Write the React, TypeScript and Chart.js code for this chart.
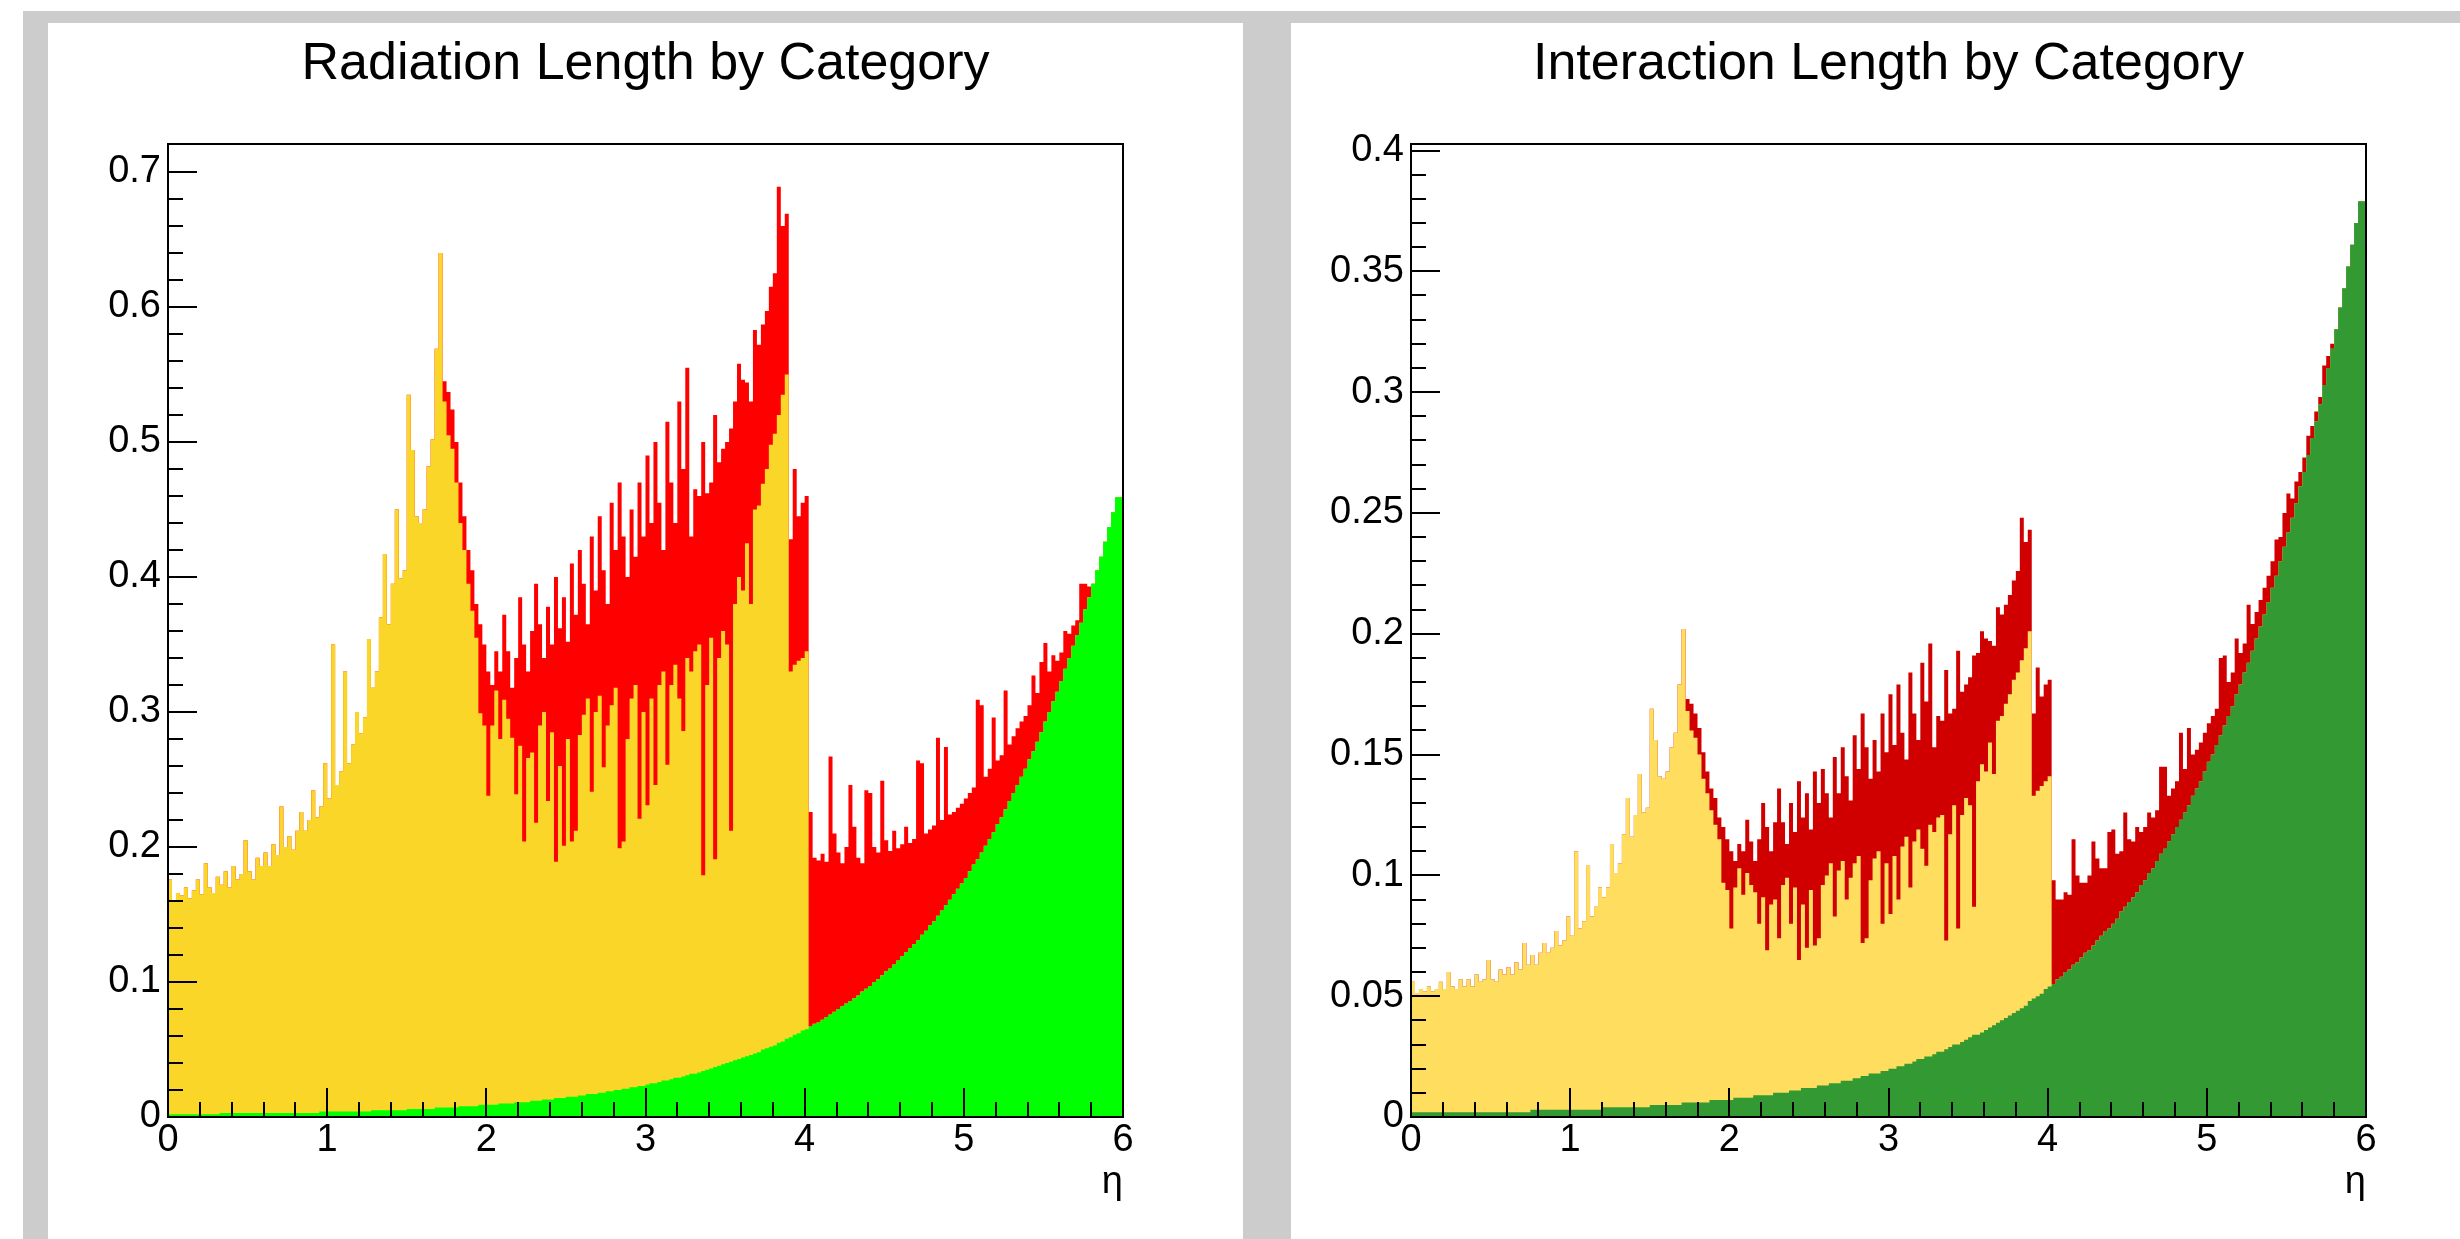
import React, { useEffect, useRef } from 'react';
import { Chart, registerables } from 'chart.js';

Chart.register(...registerables);

// ---------------- data (values in units of 1e-3, 240 bins of 0.025 in eta) ----------------
const ETA_MAX = 6;
const N_BINS = 240;
const X_TICKS = [0, 1, 2, 3, 4, 5, 6];
const RAD_Y_TICKS = [0, 0.1, 0.2, 0.3, 0.4, 0.5, 0.6, 0.7];
const INT_Y_TICKS = [0, 0.05, 0.1, 0.15, 0.2, 0.25, 0.3, 0.35, 0.4];
const RAD_Y_MAX = 0.7207;
const INT_Y_MAX = 0.4027;
const RAD_TITLE = 'Radiation Length by Category';
const INT_TITLE = 'Interaction Length by Category';
const X_TITLE = 'η';
const CATEGORY_NAMES = ['Category 1', 'Category 2', 'Category 3'];

const RAD_GREEN = [
  2, 2, 2, 2, 2, 2, 2, 2, 2, 2, 2, 2, 2, 2, 3, 3, 3, 3, 3, 3,
  3, 3, 3, 3, 3, 3, 3, 3, 3, 3, 3, 3, 3, 3, 3, 3, 3, 3, 3, 4,
  4, 4, 4, 4, 4, 4, 4, 4, 4, 4, 4, 4, 5, 5, 5, 5, 5, 5, 5, 5,
  5, 6, 6, 6, 6, 6, 6, 6, 7, 7, 7, 7, 7, 7, 8, 8, 8, 8, 8, 9,
  9, 9, 9, 9, 10, 10, 10, 10, 11, 11, 11, 11, 12, 12, 12, 13, 13, 13, 14, 14,
  14, 15, 15, 15, 16, 16, 17, 17, 17, 18, 18, 19, 19, 20, 20, 21, 21, 22, 22, 23,
  23, 24, 25, 25, 26, 27, 27, 28, 29, 29, 30, 31, 32, 32, 33, 34, 35, 36, 37, 38,
  39, 40, 41, 42, 43, 44, 45, 46, 47, 48, 50, 51, 52, 53, 55, 56, 58, 59, 61, 62,
  64, 65, 67, 69, 70, 72, 74, 76, 78, 80, 82, 84, 86, 88, 90, 93, 95, 97, 100, 102,
  105, 108, 110, 113, 116, 119, 122, 125, 128, 131, 135, 138, 142, 145, 149, 153, 157, 161, 165, 169,
  173, 177, 182, 187, 191, 196, 201, 206, 211, 217, 222, 228, 234, 240, 246, 252, 258, 265, 271, 278,
  285, 293, 300, 308, 315, 323, 332, 340, 349, 357, 366, 376, 385, 395, 405, 415, 426, 437, 448, 459,
];

const RAD_YELLOW = [
  178, 174, 158, 164, 162, 168, 160, 166, 174, 163, 186, 168, 164, 176, 169, 179, 167, 183, 173, 177,
  202, 179, 173, 189, 183, 193, 183, 199, 191, 227, 197, 205, 195, 209, 223, 209, 217, 239, 219, 226,
  258, 232, 346, 242, 252, 326, 258, 272, 296, 280, 292, 350, 313, 325, 365, 412, 360, 390, 445, 394,
  400, 529, 488, 439, 434, 444, 476, 496, 562, 633, 523, 498, 488, 463, 432, 412, 387, 367, 347, 290,
  281, 229, 281, 307, 270, 299, 285, 271, 228, 264, 193, 255, 258, 206, 278, 287, 221, 272, 175, 246,
  187, 265, 189, 197, 267, 282, 293, 224, 283, 294, 241, 271, 286, 298, 179, 183, 259, 288, 298, 198,
  277, 207, 285, 221, 294, 303, 234, 292, 306, 281, 256, 309, 298, 313, 317, 145, 285, 319, 154, 302,
  321, 310, 171, 338, 357, 346, 380, 334, 403, 405, 419, 429, 446, 453, 465, 479, 492, 271, 274, 276,
  276, 280,
];

const RAD_RED = [
  0, 0, 0, 0, 0, 0, 0, 0, 0, 0, 0, 0, 0, 0, 0, 0, 0, 0, 0, 0,
  0, 0, 0, 0, 0, 0, 0, 0, 0, 0, 0, 0, 0, 0, 0, 0, 0, 0, 0, 0,
  0, 0, 0, 0, 0, 0, 0, 0, 0, 0, 0, 0, 0, 0, 0, 0, 0, 0, 0, 0,
  0, 0, 0, 0, 0, 0, 0, 0, 0, 0, 15, 32, 29, 30, 30, 25, 25, 30, 25, 66,
  60, 92, 30, 29, 50, 63, 50, 37, 101, 110, 146, 64, 90, 177, 75, 40, 144, 65, 211, 102,
  184, 72, 206, 160, 137, 97, 55, 189, 90, 133, 146, 90, 150, 102, 271, 226, 120, 140, 95, 249,
  130, 259, 130, 254, 135, 90, 254, 150, 105, 220, 194, 215, 100, 120, 110, 321, 142, 115, 329, 145,
  135, 150, 298, 150, 158, 156, 119, 150, 133, 119, 118, 117, 117, 119, 169, 125, 119, 98, 145, 107,
  115, 115, 159, 123, 120, 123, 115, 191, 132, 116, 106, 116, 160, 127, 102, 95, 147, 143, 100, 94,
  144, 97, 87, 99, 83, 83, 93, 78, 78, 133, 127, 72, 71, 71, 132, 67, 117, 63, 61, 60,
  59, 59, 58, 57, 118, 109, 51, 52, 85, 47, 46, 88, 42, 42, 42, 41, 39, 40, 56, 36,
  52, 58, 30, 34, 23, 21, 28, 18, 15, 11, 29, 19, 8, 0, 0, 0, 0, 0, 0, 0,
];

const INT_GREEN = [
  2, 2, 2, 2, 2, 2, 2, 2, 2, 2, 2, 2, 2, 2, 2, 2, 2, 2, 2, 2,
  2, 2, 2, 2, 2, 2, 2, 2, 2, 2, 2, 3, 3, 3, 3, 3, 3, 3, 3, 3,
  3, 3, 3, 3, 3, 3, 3, 3, 3, 4, 4, 4, 4, 4, 4, 4, 4, 4, 4, 4,
  4, 5, 5, 5, 5, 5, 5, 5, 5, 6, 6, 6, 6, 6, 6, 6, 7, 7, 7, 7,
  7, 7, 8, 8, 8, 8, 8, 9, 9, 9, 9, 9, 10, 10, 10, 10, 11, 11, 11, 12,
  12, 12, 12, 13, 13, 13, 14, 14, 14, 15, 15, 15, 16, 16, 17, 17, 18, 18, 18, 19,
  19, 20, 20, 21, 21, 22, 22, 23, 24, 24, 25, 25, 26, 27, 27, 28, 29, 30, 30, 31,
  32, 33, 34, 34, 35, 36, 37, 38, 39, 40, 41, 42, 43, 44, 45, 46, 48, 49, 50, 51,
  53, 54, 55, 57, 58, 60, 61, 63, 64, 66, 68, 69, 71, 73, 75, 77, 78, 80, 82, 85,
  87, 89, 91, 93, 96, 98, 101, 103, 106, 109, 111, 114, 117, 120, 123, 126, 129, 133, 136, 139,
  143, 147, 150, 154, 158, 162, 166, 170, 175, 179, 184, 188, 193, 198, 203, 208, 213, 219, 224, 230,
  236, 242, 248, 254, 261, 267, 274, 281, 288, 295, 303, 310, 318, 326, 335, 343, 352, 361, 370, 379,
];

const INT_YELLOW = [
  55, 54, 49, 51, 50, 52, 50, 51, 54, 51, 58, 52, 51, 55, 52, 55, 52, 57, 54, 55,
  63, 55, 54, 59, 57, 60, 57, 62, 59, 70, 61, 64, 60, 65, 69, 65, 67, 74, 68, 70,
  80, 72, 107, 75, 78, 101, 80, 84, 92, 87, 91, 109, 97, 101, 113, 128, 112, 121, 138, 122,
  124, 164, 151, 136, 135, 138, 148, 154, 174, 196, 162, 154, 151, 144, 134, 128, 120, 114, 108, 90,
  87, 71, 87, 95, 84, 93, 88, 84, 71, 82, 60, 79, 80, 64, 86, 89, 69, 84, 54, 76,
  58, 82, 59, 61, 83, 87, 91, 69, 88, 91, 75, 84, 89, 92, 55, 57, 80, 89, 92, 61,
  86, 64, 88, 69, 91, 94, 73, 91, 95, 87, 79, 96, 92, 97, 98, 45, 88, 99, 48, 94,
  100, 96, 53, 105, 111, 107, 118, 104, 125, 126, 130, 133, 138, 140, 144, 148, 153, 84, 85, 86,
  86, 87,
];

const INT_RED = [
  0, 0, 0, 0, 0, 0, 0, 0, 0, 0, 0, 0, 0, 0, 0, 0, 0, 0, 0, 0,
  0, 0, 0, 0, 0, 0, 0, 0, 0, 0, 0, 0, 0, 0, 0, 0, 0, 0, 0, 0,
  0, 0, 0, 0, 0, 0, 0, 0, 0, 0, 0, 0, 0, 0, 0, 0, 0, 0, 0, 0,
  0, 0, 0, 0, 0, 0, 0, 0, 0, 0, 5, 11, 10, 11, 11, 9, 9, 11, 9, 23,
  21, 32, 11, 10, 18, 22, 18, 13, 35, 39, 51, 22, 32, 62, 26, 14, 50, 23, 74, 36,
  64, 25, 72, 56, 48, 34, 19, 66, 32, 47, 51, 32, 53, 36, 95, 79, 42, 49, 33, 87,
  46, 91, 46, 89, 47, 32, 89, 53, 37, 77, 68, 75, 35, 42, 39, 112, 50, 40, 115, 51,
  47, 53, 104, 53, 55, 55, 42, 53, 47, 42, 41, 41, 41, 42, 59, 44, 42, 34, 51, 37,
  40, 40, 43, 33, 32, 33, 31, 52, 36, 31, 29, 31, 43, 34, 28, 26, 40, 39, 27, 25,
  39, 26, 23, 27, 22, 22, 25, 21, 21, 36, 34, 19, 19, 19, 36, 18, 32, 17, 16, 16,
  16, 16, 16, 15, 32, 29, 14, 14, 23, 13, 12, 24, 11, 11, 11, 11, 11, 11, 15, 10,
  14, 16, 8, 9, 6, 6, 8, 5, 4, 3, 8, 5, 2, 0, 0, 0, 0, 0, 0, 0,
];

// ---------------- style ----------------
const FONT = 'Liberation Sans';
const RAD_COLORS = ['#00ff00', '#fad629', '#ff0000'];
const INT_COLORS = ['#339933', '#ffdd5f', '#d00000'];
const MINOR_DIV = 5;
const MAJOR_LEN = 29;
const MINOR_LEN = 15;

const rootAxesPlugin = {
  id: 'rootAxes',
  afterDatasetsDraw(chart: any) {
    const { ctx, chartArea: a, scales } = chart;
    const x = scales.x;
    const y = scales.y;
    ctx.save();
    ctx.strokeStyle = '#000';
    ctx.lineWidth = 2;
    const seg = (x1: number, y1: number, x2: number, y2: number) => {
      ctx.beginPath();
      ctx.moveTo(x1, y1);
      ctx.lineTo(x2, y2);
      ctx.stroke();
    };
    const xt = x.ticks.map((t: any) => t.value);
    for (let k = 0; k < xt.length; k++) {
      const px = Math.round(x.getPixelForValue(xt[k]));
      seg(px, a.bottom, px, a.bottom - MAJOR_LEN);
      if (k < xt.length - 1) {
        for (let m = 1; m < MINOR_DIV; m++) {
          const v = xt[k] + ((xt[k + 1] - xt[k]) * m) / MINOR_DIV;
          const pm = Math.round(x.getPixelForValue(v));
          seg(pm, a.bottom, pm, a.bottom - MINOR_LEN);
        }
      }
    }
    const yt = y.ticks.map((t: any) => t.value);
    for (let k = 0; k < yt.length; k++) {
      const py = Math.round(y.getPixelForValue(yt[k]));
      seg(a.left, py, a.left + MAJOR_LEN, py);
      if (k < yt.length - 1) {
        for (let m = 1; m < MINOR_DIV; m++) {
          const v = yt[k] + ((yt[k + 1] - yt[k]) * m) / MINOR_DIV;
          const pm = Math.round(y.getPixelForValue(v));
          seg(a.left, pm, a.left + MINOR_LEN, pm);
        }
      }
    }
    ctx.strokeRect(Math.round(a.left), Math.round(a.top), Math.round(a.right - a.left), Math.round(a.bottom - a.top));
    ctx.restore();
  },
};

type PanelProps = {
  title: string;
  green: number[];
  yellow: number[];
  red: number[];
  colors: string[];
  yMax: number;
  yTicks: number[];
};

function toPoints(arr: number[]) {
  const w = ETA_MAX / N_BINS;
  const pts: { x: number; y: number }[] = [];
  for (let i = 0; i < N_BINS; i++) pts.push({ x: i * w, y: (arr[i] ?? 0) / 1000 });
  pts.push({ x: ETA_MAX, y: (arr[N_BINS - 1] ?? 0) / 1000 });
  return pts;
}

function HistPanel({ title, green, yellow, red, colors, yMax, yTicks }: PanelProps) {
  const ref = useRef<HTMLCanvasElement>(null);
  useEffect(() => {
    const series = [green, yellow, red];
    const chart = new Chart(ref.current as HTMLCanvasElement, {
      type: 'line',
      data: {
        datasets: series.map((s, i) => ({
          label: CATEGORY_NAMES[i],
          data: toPoints(s),
          backgroundColor: colors[i],
          borderColor: 'rgba(0,0,0,0)',
          borderWidth: 0,
          pointRadius: 0,
          fill: 'origin',
          stepped: 'after',
        })),
      },
      options: {
        responsive: false,
        animation: false,
        events: [],
        layout: { padding: 0 },
        plugins: {
          legend: { display: false },
          tooltip: { enabled: false },
          title: {
            display: true,
            text: title,
            color: '#000',
            font: { family: FONT, size: 52, weight: 'normal' },
            padding: { top: 10, bottom: 48.6 },
          },
        },
        scales: {
          x: {
            type: 'linear',
            min: 0,
            max: ETA_MAX,
            afterBuildTicks: (s: any) => {
              s.ticks = X_TICKS.map((v) => ({ value: v }));
            },
            afterFit: (s: any) => {
              s.height = 122;
            },
            grid: { display: false, drawTicks: false },
            border: { display: false },
            ticks: {
              color: '#000',
              font: { family: FONT, size: 38 },
              padding: 1,
              maxRotation: 0,
              autoSkip: false,
            },
            title: {
              display: true,
              text: X_TITLE,
              align: 'end',
              color: '#000',
              font: { family: FONT, size: 38 },
              padding: { top: 0, bottom: 34 },
            },
          },
          y: {
            type: 'linear',
            position: 'left',
            min: 0,
            max: yMax,
            stacked: true,
            afterBuildTicks: (s: any) => {
              s.ticks = yTicks.map((v) => ({ value: v }));
            },
            afterFit: (s: any) => {
              s.width = 120;
            },
            grid: { display: false, drawTicks: false },
            border: { display: false },
            ticks: {
              color: '#000',
              font: { family: FONT, size: 38 },
              padding: 7,
              autoSkip: false,
              callback: (v: any) => String(Number(Number(v).toFixed(3))),
            },
          },
          // empty right-hand margin of the ROOT pad
          yRight: {
            type: 'linear',
            position: 'right',
            display: true,
            afterFit: (s: any) => {
              s.width = 120;
            },
            grid: { display: false, drawTicks: false },
            border: { display: false },
            ticks: { display: false },
          },
        },
      } as any,
      plugins: [rootAxesPlugin],
    });
    return () => chart.destroy();
  }, []);
  return <canvas ref={ref} width={1195} height={1216} style={{ display: 'block', width: 1195, height: 1216 }} />;
}

export default function App() {
  return (
    <div style={{ position: 'absolute', left: 0, top: 0, width: 2460, height: 1239, background: '#fff', overflow: 'hidden' }}>
      <div style={{ position: 'absolute', left: 23, top: 11, width: 2437, height: 1228, background: '#cccccc' }} />
      <div style={{ position: 'absolute', left: 48, top: 23, width: 1195, height: 1216, background: '#fff', overflow: 'hidden' }}>
        <HistPanel title={RAD_TITLE} green={RAD_GREEN} yellow={RAD_YELLOW} red={RAD_RED} colors={RAD_COLORS} yMax={RAD_Y_MAX} yTicks={RAD_Y_TICKS} />
      </div>
      <div style={{ position: 'absolute', left: 1291, top: 23, width: 1195, height: 1216, background: '#fff', overflow: 'hidden' }}>
        <HistPanel title={INT_TITLE} green={INT_GREEN} yellow={INT_YELLOW} red={INT_RED} colors={INT_COLORS} yMax={INT_Y_MAX} yTicks={INT_Y_TICKS} />
      </div>
    </div>
  );
}
